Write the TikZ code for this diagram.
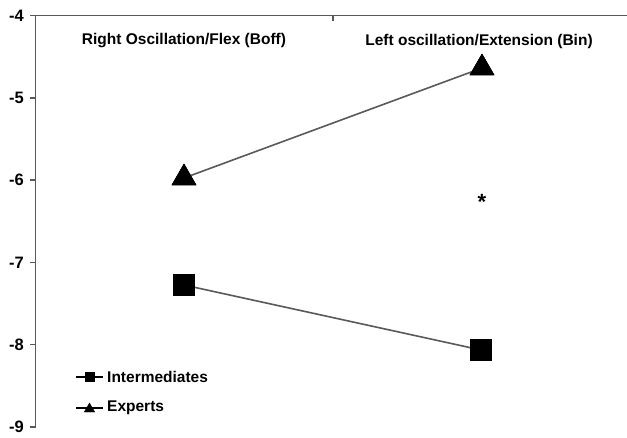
\documentclass[tikz,border=0pt]{standalone}
\usepackage{fontspec}
\setmainfont{Liberation Sans}
\usetikzlibrary{shapes.geometric}
\begin{document}
\begin{tikzpicture}[x=1pt,y=-1pt,
  axisline/.style={draw=black!65,line width=1.4pt},
  dataline/.style={draw=black!65,line width=1.6pt},
  sqmark/.style={draw=black,fill=black,rectangle,minimum size=21pt,inner sep=0pt},
  trimark/.style={draw=black,fill=black,regular polygon,regular polygon sides=3,minimum size=28pt,inner sep=0pt},
  sqsmall/.style={draw=black,fill=black,rectangle,minimum size=9pt,inner sep=0pt},
  trismall/.style={draw=black,fill=black,regular polygon,regular polygon sides=3,minimum size=12pt,inner sep=0pt},
  ticklab/.style={anchor=east,font=\fontsize{16.5}{16.5}\selectfont\bfseries,inner sep=0pt},
  catlab/.style={font=\fontsize{15.5}{16}\selectfont\bfseries,inner sep=0pt},
  leglab/.style={anchor=west,font=\fontsize{15.5}{16}\selectfont\bfseries,inner sep=0pt}]
\useasboundingbox (0,0) rectangle (627,437);
% axes
\coordinate (o) at (35.5,15.5);
\coordinate (ybot) at (35.5,427);
\coordinate (xend) at (627,15.5);
\draw[axisline] (ybot) -- (o) -- (xend);
\foreach \v [count=\i from 0] in {-4,-5,-6,-7,-8,-9}{
  \draw[axisline] (30,15.5+82.3*\i) -- (35.5,15.5+82.3*\i);
  \node[ticklab] (t\i) at (24,15.5+82.3*\i) {\v};
}
\draw[axisline] (333,15.5) -- (333,21);
% category labels
\node[catlab] (c1) at (184,41) {Right Oscillation/Flex (Boff)};
\node[catlab] (c2) at (479,41) {Left oscillation/Extension (Bin)};
% data
\node[sqmark] (i1) at (184,285) {};
\node[sqmark] (i2) at (481,350) {};
\node[trimark] (e1) at (184,178) {};
\node[trimark] (e2) at (482,68) {};
\draw[dataline] (i1.center) -- (i2.center);
\draw[dataline] (e1.center) -- (e2.center);
\node[sqmark] at (i1) {};
\node[sqmark] at (i2) {};
\node[trimark] at (e1) {};
\node[trimark] at (e2) {};
\node[font=\fontsize{22}{22}\selectfont\bfseries,inner sep=0pt] (star) at (482,202) {*};
% legend
\coordinate (l1a) at (76,377); \coordinate (l1b) at (103,377);
\coordinate (l2a) at (76,408); \coordinate (l2b) at (103,408);
\draw[line width=1.4pt] (l1a) -- (l1b);
\draw[line width=1.4pt] (l2a) -- (l2b);
\node[sqsmall] (ls) at (89.5,377) {};
\node[trismall] (lt) at (89.5,409) {};
\node[leglab] (lg1) at (107,377) {Intermediates};
\node[leglab] (lg2) at (107,408) {Experts};
\end{tikzpicture}
\end{document}
